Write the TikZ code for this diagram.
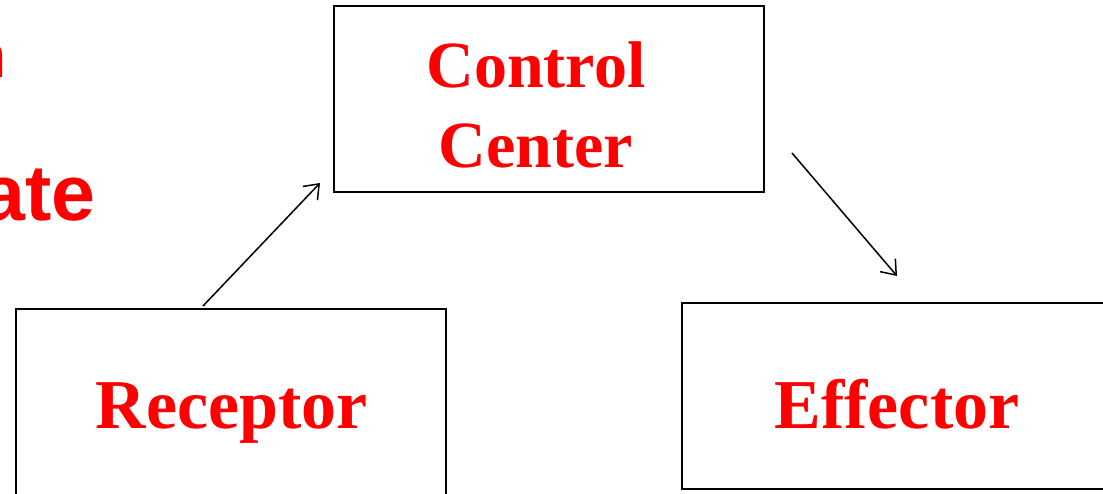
\documentclass[tikz,border=0pt]{standalone}
\usepackage{fontspec}
\setmainfont{Liberation Serif}
\newfontfamily\arialfont{Liberation Sans}
\usetikzlibrary{arrows.meta}
\definecolor{txtred}{RGB}{255,0,0}
\tikzset{
  box/.style={draw=black, line width=1.5pt, rectangle, inner sep=0pt},
  lbl/.style={text=txtred, font=\bfseries\fontsize{70}{80}\selectfont, inner sep=0pt, align=center},
  lblc/.style={text=txtred, font=\bfseries\fontsize{66}{80}\selectfont, inner sep=0pt, align=center},
  cut/.style={text=txtred, inner sep=0pt},
  conn/.style={line width=1.5pt, -{Straight Barb[length=13pt,width=20pt,line width=1.5pt]}}
}
\begin{document}
\begin{tikzpicture}[x=1pt,y=-1pt]
\useasboundingbox (0,0) rectangle (1103,493);
\clip (0,0) rectangle (1103,493);
% partial texts at the left edge
\node[cut, anchor=base east, font=\arialfont\bfseries\fontsize{64}{70}\selectfont] (tn) at (7,77) {n};
\node[cut, anchor=base east, font=\arialfont\bfseries\fontsize{79}{85}\selectfont] (tate) at (96,220) {ate};
% boxes
\node[box, minimum width=430pt, minimum height=186pt] (ctrl) at (549,99) {};
\node[box, minimum width=430pt, minimum height=240pt] (rec) at (231,429) {};
\node[box, minimum width=430pt, minimum height=186pt] (eff) at (897,396) {};
% labels
\node[lblc, anchor=base] (ctrl1) at (536,87) {Control};
\node[lblc, anchor=base] (ctrl2) at (536,167) {Center};
\node[lbl, anchor=base] (rect) at (232,428) {Receptor};
\node[lbl, anchor=base] (efft) at (897,428) {Effector};
% connectors
\coordinate (a1s) at (203,306);
\coordinate (a1e) at (320,183);
\coordinate (a2s) at (792,153);
\coordinate (a2e) at (897,276);
\draw[conn] (a1s) -- (a1e);
\draw[conn] (a2s) -- (a2e);
\end{tikzpicture}
\end{document}
